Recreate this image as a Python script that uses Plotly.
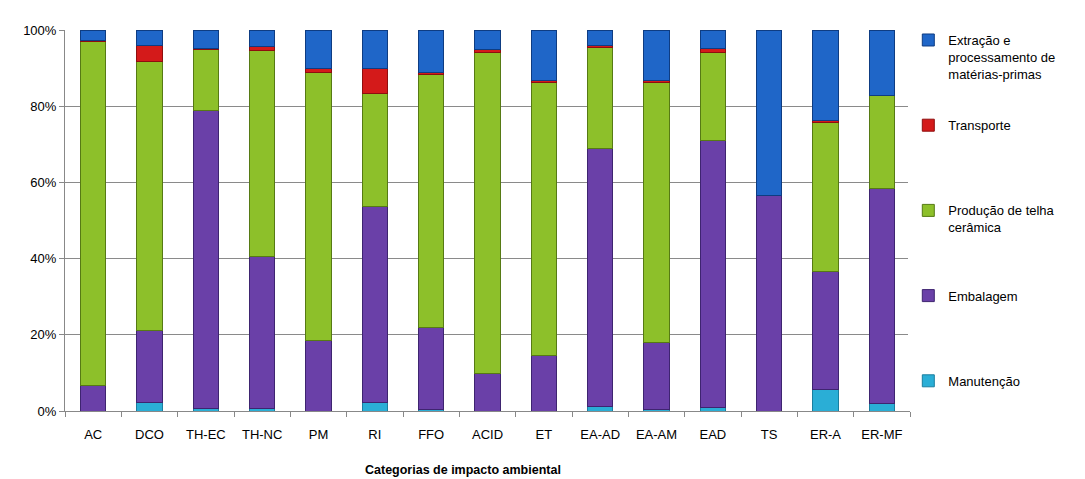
import plotly.graph_objects as go

categories = ["AC", "DCO", "TH-EC", "TH-NC", "PM", "RI", "FFO", "ACID", "ET",
              "EA-AD", "EA-AM", "EAD", "TS", "ER-A", "ER-MF"]

manutencao = [0.0, 2.3, 0.7, 0.7, 0.0, 2.3, 0.5, 0.0, 0.0, 1.1, 0.3, 1.0, 0.0, 5.6, 2.0]
embalagem = [6.6, 18.9, 78.3, 39.8, 18.4, 51.3, 21.4, 9.9, 14.5, 67.9, 17.8, 70.0, 56.5, 31.1, 56.4]
producao = [90.4, 70.5, 16.0, 54.0, 70.5, 29.8, 66.3, 84.2, 71.7, 26.5, 68.1, 23.1, 0.0, 38.9, 24.3]
transporte = [0.3, 4.3, 0.2, 1.1, 1.1, 6.6, 0.7, 0.7, 0.6, 0.4, 0.6, 1.1, 0.0, 0.6, 0.2]
extracao = [2.7, 4.0, 4.8, 4.4, 10.0, 10.0, 11.1, 5.2, 13.2, 4.1, 13.2, 4.8, 43.5, 23.8, 17.1]

tick_vals = [0, 20, 40, 60, 80, 100]
tick_text = ["0%", "20%", "40%", "60%", "80%", "100%"]

PAD = "<br>\u00a0"
series = [
    ("Manutenção", manutencao, "#2AAED6", "#1A7E9E", 5, ""),
    ("Embalagem", embalagem, "#6A40A8", "#3E2470", 4, PAD * 2),
    ("Produção de telha<br>cerâmica", producao, "#8DC02A", "#567A14", 3, PAD),
    ("Transporte", transporte, "#D41A1A", "#8E0E0E", 2, PAD * 2),
    ("Extração e<br>processamento de<br>matérias-primas", extracao, "#1F66C8", "#0E3C82", 1, ""),
]

fig = go.Figure()
for i, (name, vals, col, edge, rank, pad) in enumerate(series):
    fig.add_trace(go.Bar(
        x=categories, y=vals, name=name + pad,
        marker=dict(color=col, line=dict(color=edge, width=1)),
        legendgroup=str(i), legendrank=rank,
    ))

fig.update_layout(
    barmode="stack",
    bargap=0.55,
    width=1085, height=479,
    paper_bgcolor="white", plot_bgcolor="white",
    margin=dict(l=57, r=183, t=22, b=76, autoexpand=False),
    font=dict(family="Liberation Sans, Arial, sans-serif", size=13, color="#000"),
    xaxis=dict(
        showline=True, linecolor="#888", ticks="outside", tickcolor="#888", ticklen=5,
        tickson="boundaries", ticklabelstandoff=11,
        tickfont=dict(size=13),
    ),
    yaxis=dict(
        range=[0, 100], tickvals=tick_vals, ticktext=tick_text,
        showgrid=True, gridcolor="#8A8A8A", gridwidth=1,
        showline=True, linecolor="#888", ticks="outside", tickcolor="#888", ticklen=5,
        tickfont=dict(size=13), zeroline=False,
    ),
    legend=dict(
        x=0.998, y=1.013, xanchor="left", yanchor="top",
        traceorder="grouped", tracegroupgap=31.5, maxheight=479,
        font=dict(size=13), valign="top", itemwidth=30,
    ),
    annotations=[dict(
        text="<b>Categorias de impacto ambiental</b>",
        xref="paper", yref="paper", x=0.471, y=-0.155,
        xanchor="center", yanchor="middle", showarrow=False,
        font=dict(size=12.5),
    )],
)

fig.write_html("out.html")
